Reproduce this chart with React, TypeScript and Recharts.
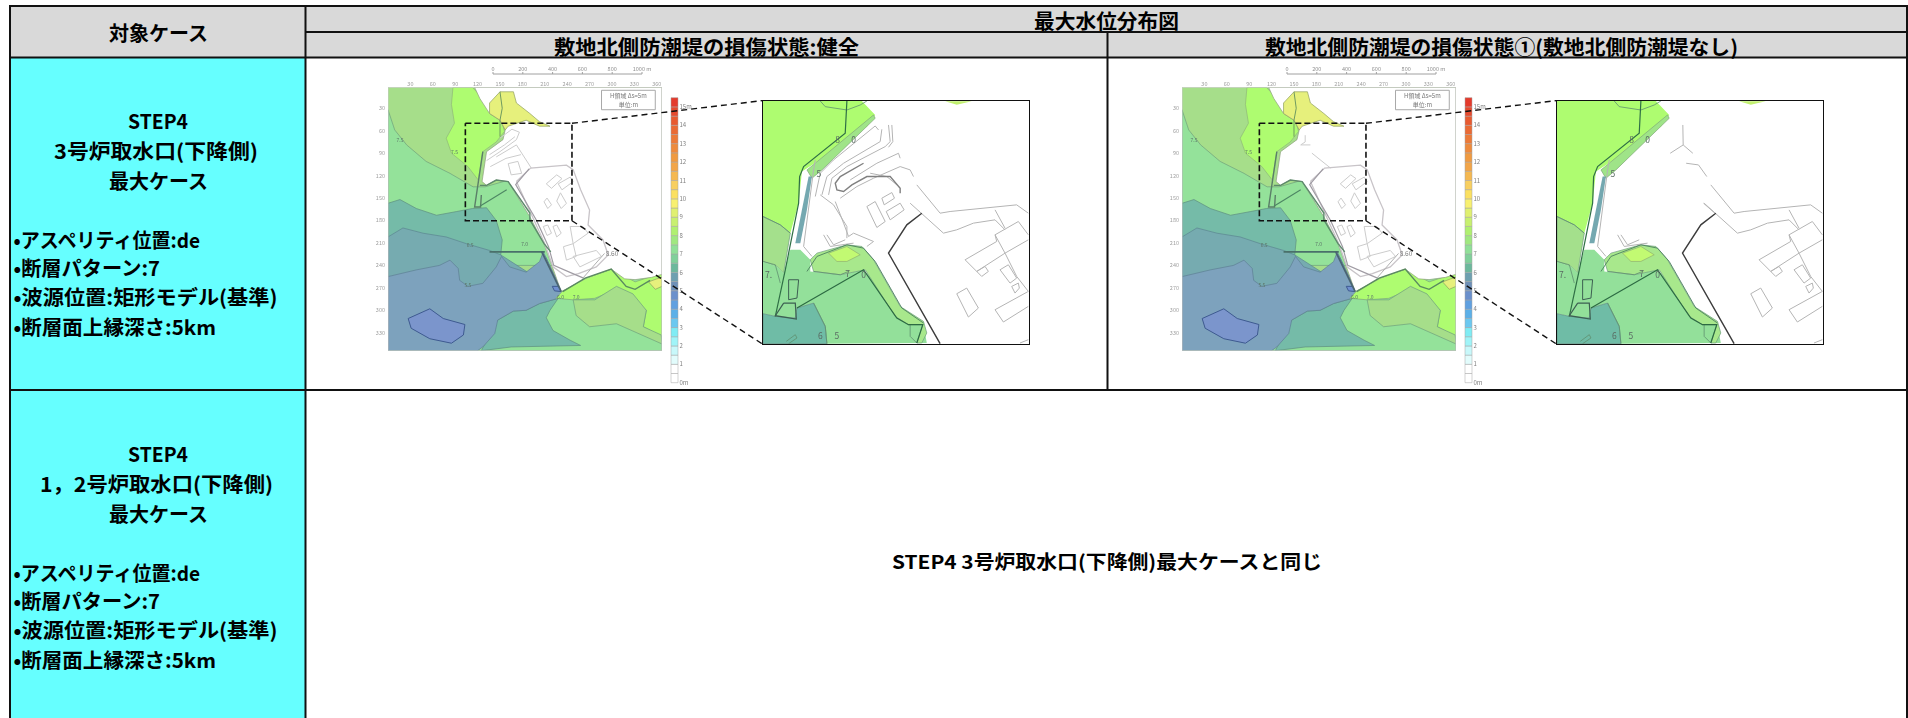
import { Bar, BarChart, LabelList, Scatter, ScatterChart, XAxis, YAxis } from 'recharts';

type Pair = [number, number];

const FONT = "'Noto Sans CJK JP', 'Noto Sans', sans-serif";

// table text
const caseHeader = '対象ケース';
const mapHeader = '最大水位分布図';
const sideHeaders = ['敷地北側防潮堤の損傷状態:健全', '敷地北側防潮堤の損傷状態①(敷地北側防潮堤なし)'];
const caseLines = ['•アスペリティ位置:de', '•断層パターン:7', '•波源位置:矩形モデル(基準)', '•断層面上縁深さ:5km'];
const sameAsNote = 'STEP4 3号炉取水口(下降側)最大ケースと同じ';

// map axes (grid numbers along the edges of the figure)
const gridTicksX = [30, 60, 90, 120, 150, 180, 210, 240, 270, 300, 330, 360];
const gridTicksY = [30, 60, 90, 120, 150, 180, 210, 240, 270, 300, 330];
const scaleTicks = [0, 200, 400, 600, 800, 1000];

// water level legend, one colour per 0.5 m from 0 m upward
const levelTicks = [0, 1, 2, 3, 4, 5, 6, 7, 8, 9, 10, 11, 12, 13, 14, 15];
const levelColors = [
  '#ffffff', '#ffffff', '#e2fcfc', '#c8f8fa', '#a0f4f8', '#80ecf4', '#6cc8f0', '#5cb0e8',
  '#60a0e0', '#6b90cc', '#6e90b8', '#6ea0b0', '#6cb89c', '#80d09a', '#90e098', '#a0e880',
  '#b0f070', '#c8f070', '#e0f070', '#f8f070', '#fbe060', '#f8cf60', '#f5b850', '#f2a548',
  '#f09a40', '#ee8a3c', '#ec7a38', '#ea6a34', '#e85a30', '#e64a2e', '#e43a2c',
];

// contour bands of the overview map, in grid numbers
const wholeArea: Pair[] = [[0, 2], [367, 2], [367, 354], [0, 354]];
const band8North: Pair[] = [[87, 2], [113, 2], [127, 17], [136, 28], [150, 37], [156, 61], [145, 75], [127, 88], [121, 126], [107, 108], [85, 90], [78, 70], [89, 50], [85, 25]];
const band7: Pair[] = [[0, 32], [9, 59], [25, 79], [51, 101], [83, 117], [114, 135], [130, 135], [165, 125], [240, 240], [0, 240]];
const band65: Pair[] = [[0, 157], [16, 152], [38, 164], [65, 173], [92, 168], [113, 164], [132, 163], [145, 180], [153, 206], [151, 226], [165, 245], [187, 249], [212, 230], [240, 300], [0, 300]];
const band6: Pair[] = [[0, 202], [20, 190], [47, 197], [78, 202], [105, 211], [136, 220], [151, 226], [187, 249], [212, 235], [240, 300], [0, 300]];
const band7South: Pair[] = [[143, 300], [228, 270], [366, 245], [367, 354], [120, 354]];
const band65South: Pair[] = [[147, 313], [168, 301], [185, 300], [203, 291], [228, 284], [217, 300], [212, 310], [221, 327], [244, 340], [258, 347], [165, 349], [125, 354]];
const band55: Pair[] = [[0, 255], [38, 246], [69, 240], [83, 233], [94, 244], [96, 260], [107, 268], [127, 264], [145, 242], [152, 228], [163, 242], [185, 249], [203, 235], [208, 222], [234, 276], [228, 284], [203, 291], [185, 300], [168, 301], [147, 313], [143, 331], [127, 349], [120, 354], [0, 354]];
const band45: Pair[] = [[27, 311], [56, 298], [74, 311], [103, 319], [101, 333], [85, 344], [56, 338], [31, 324]];
const band45Small: Pair[] = [[220, 268], [230, 268], [232, 275], [223, 274]];
const band8South: Pair[] = [[225, 284], [234, 274], [264, 257], [299, 245], [331, 262], [367, 250], [367, 335], [342, 322], [346, 300], [328, 285], [306, 272], [277, 284], [248, 286]];
const band75South: Pair[] = [[248, 286], [277, 286], [306, 268], [328, 278], [346, 300], [342, 322], [366, 333], [367, 345], [306, 318], [270, 322], [252, 307]];
const landArea: Pair[] = [[116, 2], [367, 2], [367, 252], [353, 256], [331, 259], [317, 258], [299, 245], [266, 257], [234, 274], [232, 275], [217, 233], [209, 211], [190, 175], [161, 128], [145, 126], [132, 133], [126, 128], [132, 88], [154, 72], [157, 59], [150, 46], [136, 37], [123, 17]];
const hillNorth: Pair[] = [[136, 37], [136, 23], [150, 8], [168, 8], [172, 23], [190, 37], [203, 48], [217, 54], [203, 54], [185, 46], [161, 54], [157, 59], [150, 46]];
const hillEast: Pair[] = [[349, 262], [360, 258], [367, 256], [367, 268], [358, 272]];

// coast structures of the overview map
const wallWest: Pair[] = [[127, 88], [116, 162], [124, 162], [125, 146]];
const wallHarbour: Pair[] = [[159, 139], [123, 161]];
const wallEast: Pair[] = [[123, 133], [132, 133], [145, 126], [161, 128], [190, 170], [190, 179], [209, 211], [218, 222]];
const wallBreak: Pair[] = [[136, 222], [210, 222]];
const wallSouth: Pair[] = [[206, 222], [232, 275]];
const wallSouthEast: Pair[] = [[234, 275], [264, 257], [299, 245], [319, 268], [331, 272], [351, 260]];
const hillTrack: Pair[] = [[150, 8], [153, 30], [150, 46], [150, 68]];

const roadLoop: Pair[] = [[172, 128], [191, 110], [239, 106], [248, 112], [258, 139], [270, 166], [268, 186], [288, 206], [295, 226], [279, 242], [255, 251], [239, 255], [221, 242], [210, 211], [172, 128]];
const roadDark: Pair[] = [[189, 111], [171, 132], [199, 180], [215, 215], [222, 240], [250, 252], [262, 257]];
const leader: Pair[] = [[290, 224], [261, 257]];
const siteBlocks: Pair[][] = [
  [[212, 131], [226, 119], [233, 124], [219, 137], [212, 131]],
  [[228, 131], [244, 122], [248, 128], [233, 139], [228, 131]],
  [[231, 143], [239, 157], [232, 164], [226, 154], [231, 143]],
  [[209, 155], [213, 150], [219, 159], [214, 164], [209, 155]],
  [[221, 188], [226, 186], [232, 197], [226, 202], [221, 188]],
  [[208, 188], [214, 186], [219, 197], [213, 200], [208, 188]],
  [[244, 188], [261, 188], [268, 197], [248, 211], [244, 188]],
  [[235, 215], [248, 211], [252, 228], [239, 233], [235, 215]],
  [[248, 228], [279, 220], [286, 228], [257, 242], [248, 228]],
];
const harbourRoads: Pair[][] = [
  [[136, 92], [156, 79], [170, 68]],
  [[145, 95], [172, 79], [192, 110]],
  [[132, 100], [150, 88], [172, 72], [176, 62], [166, 58], [150, 70]],
  [[161, 104], [174, 101], [179, 117], [165, 119], [161, 104]],
  [[137, 108], [158, 97], [178, 92]],
];
const yardRemains: Pair[][] = [
  [[165, 66], [165, 75], [159, 79], [172, 79]],
  [[174, 90], [199, 110]],
];

const contourMarks = [
  { x: 16, y: 73, label: '7.5' }, { x: 89, y: 89, label: '7.5' }, { x: 110, y: 213, label: '6.5' },
  { x: 183, y: 212, label: '7.0' }, { x: 107, y: 266, label: '5.5' }, { x: 231, y: 283, label: '6.0' },
  { x: 252, y: 283, label: '7.0' },
];
const legendBox: Pair[] = [[286, 6], [358, 6], [358, 32], [286, 32]];
const legendLines = [{ x: 322, y: 13, label: 'H領域\u00a0Δs=5m' }, { x: 322, y: 25, label: '単位:m' }];
const peakMark = [{ x: 300, y: 224, label: '8.60' }];

// the dashed frame and the lines that lead to the enlarged figure
const detailFrame: Pair[] = [[103.7, 50.6], [246.6, 50.6], [246.6, 181], [103.7, 181], [103.7, 50.6]];
const leadUpper: Pair[] = [[246.6, 50.6], [502, 20.2]];
const leadLower: Pair[] = [[246.6, 181], [502, 346]];

// enlarged figure, in its own detail grid
const dBright: Pair[] = [[188, 93], [485, 93], [525, 135], [500, 170], [430, 215], [375, 260], [305, 305], [295, 400], [270, 490], [240, 465], [188, 440]];
const dPale: Pair[] = [[188, 440], [240, 465], [270, 490], [250, 610], [230, 590], [188, 575]];
const dGreen: Pair[] = [[188, 575], [230, 590], [250, 610], [270, 540], [300, 540], [330, 570], [330, 605], [420, 615], [490, 600], [600, 720], [670, 765], [680, 820], [380, 822], [375, 770], [340, 700], [290, 715], [285, 745], [225, 740], [188, 732]];
const dTeal: Pair[] = [[188, 732], [225, 740], [285, 745], [290, 715], [340, 700], [375, 770], [380, 822], [188, 822]];
const dStrip: Pair[] = [[330, 570], [350, 550], [440, 525], [485, 530], [520, 570], [600, 710], [670, 755], [680, 790], [665, 820], [650, 820], [668, 765], [625, 765], [585, 740], [495, 600], [420, 615], [340, 605]];
const dSpot: Pair[] = [[385, 550], [440, 530], [480, 555], [440, 575], [410, 575]];
const dWater: Pair[] = [[325, 320], [335, 320], [320, 420], [300, 520], [285, 520], [305, 420]];
const dCoast: Pair[] = [[320, 300], [345, 280], [520, 135], [525, 145], [365, 300], [335, 325]];
const dShore: Pair[] = [[735, 94], [815, 94], [770, 104]];
const dWallNorth: Pair[] = [[440, 93], [435, 190], [310, 290], [298, 320], [295, 400], [255, 600], [225, 740]];
const dWallHarbour: Pair[] = [[290, 715], [490, 600], [590, 745], [625, 765], [668, 765], [650, 820]];
const dWallCurve: Pair[] = [[320, 605], [350, 560], [440, 525], [490, 535], [525, 575], [605, 715], [670, 760]];
const dBasinA: Pair[] = [[265, 630], [295, 630], [290, 685], [265, 690], [265, 630]];
const dBasinB: Pair[] = [[250, 700], [285, 700], [288, 748], [225, 738], [250, 700]];
const dContours: Pair[][] = [
  [[360, 93], [375, 110], [440, 120], [480, 105], [500, 93]],
  [[188, 440], [240, 465], [270, 490]],
  [[188, 575], [225, 585], [240, 640]],
  [[340, 605], [420, 615], [445, 605]],
  [[340, 700], [375, 770], [380, 822]],
  [[258, 815], [285, 795], [290, 805], [265, 822]],
  [[630, 765], [630, 800], [650, 820]],
];
const dBlack: Pair[] = [[665, 430], [620, 465], [565, 550], [720, 822]];
const dSiteLines: Pair[][] = [
  [[650, 345], [720, 430], [750, 425], [950, 405], [985, 430]],
  [[630, 400], [730, 490], [770, 480], [820, 460], [885, 450], [915, 480]],
  [[885, 420], [915, 475]],
  [[795, 570], [890, 515], [885, 495], [955, 455], [985, 495]],
  [[795, 570], [830, 605], [915, 550], [985, 510]],
  [[830, 605], [855, 590], [865, 605], [845, 620], [830, 605]],
  [[900, 600], [925, 585], [950, 625], [930, 640], [900, 600]],
  [[935, 650], [955, 640], [958, 655], [945, 670], [935, 650]],
  [[770, 672], [800, 655], [835, 715], [805, 742], [770, 672]],
  [[885, 720], [985, 665]],
  [[885, 720], [910, 757], [985, 710]],
  [[885, 495], [915, 550], [950, 620], [985, 665]],
  [[960, 820], [985, 810]],
  [[345, 270], [340, 300], [310, 530], [335, 560]],
  [[370, 495], [390, 530], [460, 520]],
  [[380, 495], [400, 525], [435, 510]],
];
const dHarbourLines: Pair[][] = [
  [[535, 180], [525, 168], [400, 270], [360, 310], [345, 380]],
  [[545, 178], [540, 215], [430, 280], [380, 320], [365, 375]],
  [[565, 165], [570, 215], [555, 230], [440, 290], [395, 325], [385, 375]],
  [[575, 165], [578, 215], [565, 232]],
  [[420, 385], [470, 350], [520, 325], [600, 290], [630, 300], [640, 320]],
  [[450, 330], [530, 280], [595, 250], [600, 265]],
  [[510, 310], [560, 320], [590, 345]],
  [[500, 410], [525, 395], [555, 455], [530, 473], [500, 410]],
  [[545, 385], [575, 368], [583, 385], [552, 405], [545, 385]],
  [[558, 425], [600, 400], [612, 420], [570, 450], [558, 425]],
  [[360, 375], [400, 405], [440, 470], [440, 505]],
  [[405, 395], [430, 460], [445, 500], [460, 490], [520, 515], [500, 530]],
];
const dHarbourDark: Pair[] = [[490, 280], [420, 320], [405, 340], [410, 360], [430, 365], [455, 345], [500, 320], [570, 320], [600, 355], [600, 370]];
const dRemains: Pair[][] = [
  [[566, 165], [567, 225], [528, 250]],
  [[567, 225], [596, 250]],
  [[576, 280], [613, 285], [638, 320]],
  [[628, 400], [660, 428]],
];
const dMarks = [
  { x: 412, y: 210, label: '8' }, { x: 460, y: 210, label: '0' }, { x: 356, y: 312, label: '5' },
  { x: 205, y: 617, label: '7.' }, { x: 442, y: 612, label: '7' }, { x: 490, y: 615, label: '0' },
  { x: 360, y: 798, label: '6' }, { x: 410, y: 798, label: '5' },
];

const points = (pairs: Pair[]) => pairs.map(([x, y]) => ({ x, y }));
const closed = (pairs: Pair[]) => points([...pairs, pairs[0]]);
const NoDot = () => null;

function fillArea(key: string, pairs: Pair[], fill: string, stroke: string, strokeWidth = 0.7) {
  return (
    <Scatter
      key={key}
      data={closed(pairs)}
      shape={NoDot}
      line={{ fill, stroke, strokeWidth }}
      isAnimationActive={false}
    />
  );
}

function trace(key: string, pairs: Pair[], stroke: string, strokeWidth = 1, strokeDasharray?: string) {
  return (
    <Scatter
      key={key}
      data={points(pairs)}
      shape={NoDot}
      line={{ stroke, strokeWidth, strokeDasharray, fill: 'none' }}
      isAnimationActive={false}
    />
  );
}

function marks(key: string, data: { x: number; y: number; label: string }[], size: number, color: string) {
  return (
    <Scatter key={key} data={data} shape={NoDot} isAnimationActive={false}>
      <LabelList dataKey="label" position="center" fontSize={size} fill={color} fontFamily={FONT} />
    </Scatter>
  );
}

function Overview({ left, full }: { left: number; full: boolean }) {
  const gridTick = { fontSize: 5.5, fill: '#a0a0a0', fontFamily: FONT };
  return (
    <div style={{ position: 'absolute', left, top: 60, filter: 'blur(0.5px)' }}>
      <ScatterChart width={340} height={330} margin={{ top: 13.3, right: 18, bottom: 39.3, left: 18 }}>
        <XAxis
          type="number"
          dataKey="x"
          orientation="top"
          domain={[0, 367]}
          ticks={gridTicksX}
          height={14}
          allowDataOverflow
          axisLine={false}
          tickLine={false}
          tickSize={0}
          tick={gridTick}
          tickMargin={1}
        />
        <YAxis
          type="number"
          dataKey="y"
          reversed
          domain={[2, 354]}
          ticks={gridTicksY}
          width={30}
          allowDataOverflow
          axisLine={false}
          tickLine={false}
          tickSize={0}
          tick={gridTick}
          tickMargin={3}
        />
        {fillArea('base', wholeArea, '#a6de8a', '#a6de8a')}
        {fillArea('b8n', band8North, '#aefc70', '#8fb878')}
        {fillArea('b7', band7, '#94e29a', '#6f9f7c')}
        {fillArea('b65', band65, '#75bba8', '#5f8f80')}
        {fillArea('b6', band6, '#76abb0', '#5c8590')}
        {fillArea('b7s', band7South, '#94e29a', '#6f9f7c')}
        {fillArea('b65s', band65South, '#75bba8', '#5f8f80')}
        {fillArea('b55', band55, '#7da2bd', '#5f7f95')}
        {fillArea('b45', band45, '#7b95cc', '#3e5a90', 1)}
        {fillArea('b45s', band45Small, '#6f8fcf', '#3e5a90', 1)}
        {fillArea('b8s', band8South, '#aefc70', '#7fa878')}
        {fillArea('b75s', band75South, '#a6de8a', '#6f9f7c')}
        {fillArea('land', landArea, '#ffffff', '#8fa080')}
        {fillArea('hillN', hillNorth, '#e6f07c', '#8f9f60')}
        {fillArea('hillE', hillEast, '#e6f07c', '#8f9f60')}
        {trace('hillTrack', hillTrack, '#6f9a60', 1)}
        {(full ? [...siteBlocks, ...harbourRoads] : [...siteBlocks, ...yardRemains]).map((b, i) =>
          trace(`site${i}`, b, '#cccccc', 1),
        )}
        {trace('roadLoop', roadLoop, '#c8c4c8', 1.3)}
        {trace('roadDark', roadDark, '#a09ca4', 1.2)}
        {trace('leader', leader, '#b0b0b0', 1)}
        {trace('wallWest', wallWest, '#5b7f68', 1.4)}
        {trace('wallHarbour', wallHarbour, '#4d8663', 1.1)}
        {trace('wallEast', wallEast, '#5d8a6c', 1.4)}
        {trace('wallBreak', wallBreak, '#4a706a', 1.8)}
        {trace('wallSouth', wallSouth, '#4a6472', 1.8)}
        {trace('wallSouthEast', wallSouthEast, '#5a8a60', 1.4)}
        {trace('frame', [...wholeArea, wholeArea[0]], '#c8c8c8', 1)}
        {fillArea('legendBox', legendBox, '#ffffff', '#a8a8a8', 1)}
        {marks('legend', legendLines, 6, '#777777')}
        {marks('contour', contourMarks, 5, '#5c7668')}
        {marks('peak', peakMark, 6.5, '#808080')}
      </ScatterChart>
    </div>
  );
}

function ScaleBar({ left }: { left: number }) {
  return (
    <div style={{ position: 'absolute', left, top: 60, filter: 'blur(0.4px)' }}>
      <ScatterChart width={190} height={20} margin={{ top: 0, right: 21, bottom: 0, left: 20 }}>
        <XAxis
          type="number"
          dataKey="x"
          orientation="top"
          domain={[0, 1000]}
          ticks={scaleTicks}
          height={14}
          stroke="#a0a0a0"
          tickSize={2}
          tickMargin={1}
          tick={{ fontSize: 5.5, fill: '#909090', fontFamily: FONT }}
          tickFormatter={(v: number) => (v === 1000 ? '1000 m' : `${v}`)}
        />
        <YAxis type="number" dataKey="y" domain={[0, 1]} hide />
        <Scatter data={points([[0, 0], [1000, 0]])} shape={NoDot} isAnimationActive={false} />
      </ScatterChart>
    </div>
  );
}

function LevelBar({ left }: { left: number }) {
  const row: Record<string, number | string> = { name: 'level' };
  levelColors.forEach((_, i) => {
    row[`s${i}`] = 0.5;
  });
  return (
    <div style={{ position: 'absolute', left, top: 90, filter: 'blur(0.4px)' }}>
      <BarChart width={60} height={300} data={[row]} barCategoryGap={0} margin={{ top: 7.7, right: 5.5, bottom: 7.3, left: 6 }}>
        <XAxis dataKey="name" hide />
        <YAxis
          orientation="right"
          type="number"
          domain={[0, 15.5]}
          ticks={levelTicks}
          width={42}
          interval={0}
          axisLine={false}
          tickLine={false}
          tickSize={0}
          tickMargin={2}
          tick={{ fontSize: 6, fill: '#808080', fontFamily: FONT, textAnchor: 'start' }}
          tickFormatter={(v: number) => (v === 15 ? '15m' : v === 0 ? '0m' : `${v}`)}
        />
        {levelColors.map((color, i) => (
          <Bar key={i} dataKey={`s${i}`} stackId="level" fill={color} stroke="#a4a4a4" strokeWidth={0.5} isAnimationActive={false} />
        ))}
      </BarChart>
    </div>
  );
}

function Detail({ left, full }: { left: number; full: boolean }) {
  const lines = full ? [...dSiteLines, ...dHarbourLines] : [...dSiteLines, ...dRemains];
  return (
    <div style={{ position: 'absolute', left, top: 101, background: '#ffffff', outline: '1.5px solid #111111', outlineOffset: '-0.5px' }}>
      <div style={{ filter: 'blur(0.3px)' }}>
        <ScatterChart width={266} height={243} margin={{ top: 0, right: 0, bottom: 0, left: 0 }}>
          <XAxis type="number" dataKey="x" domain={[188, 987]} allowDataOverflow hide />
          <YAxis type="number" dataKey="y" reversed domain={[93, 823]} allowDataOverflow hide />
          {fillArea('bright', dBright, '#aefc70', '#aefc70', 0)}
          {fillArea('pale', dPale, '#a4e08c', '#6f9f7c')}
          {fillArea('green', dGreen, '#93e09a', '#93e09a', 0)}
          {fillArea('teal', dTeal, '#6fbca6', '#5f8f80')}
          {fillArea('strip', dStrip, '#a8e88c', '#6f9f7c')}
          {fillArea('spot', dSpot, '#c2fa72', '#8fb070')}
          {fillArea('coast', dCoast, '#9fe488', '#7fa878')}
          {fillArea('water', dWater, '#74a8b0', '#74a8b0', 0)}
          {fillArea('shore', dShore, '#c2f070', '#c2f070', 0)}
          {dContours.map((c, i) => trace(`contour${i}`, c, '#5f8f70', 0.8))}
          {lines.map((l, i) => trace(`line${i}`, l, '#b4b4b4', 1))}
          {full ? trace('harbourDark', dHarbourDark, '#808080', 1.4) : null}
          {trace('black', dBlack, '#3c3c3c', 1.4)}
          {trace('wallN', dWallNorth, '#2f6f45', 1.2)}
          {trace('wallH', dWallHarbour, '#2c6a42', 1.2)}
          {trace('wallC', dWallCurve, '#4d8060', 0.9)}
          {trace('basinA', dBasinA, '#3d5f52', 1)}
          {trace('basinB', dBasinB, '#3d5f52', 1.2)}
          {marks('marks', dMarks, 8.5, '#5a6a62')}
        </ScatterChart>
      </div>
    </div>
  );
}

// runs over the legend bar, so it sits on top of everything else in the cell
function Leads({ left }: { left: number }) {
  return (
    <div style={{ position: 'absolute', left, top: 87.4 }}>
      <ScatterChart width={374.5} height={257} margin={{ top: 0, right: 0, bottom: 0, left: 0 }}>
        <XAxis type="number" dataKey="x" domain={[0, 502]} hide />
        <YAxis type="number" dataKey="y" reversed domain={[2, 346]} hide />
        {trace('detailFrame', detailFrame, '#111111', 1.6, '6 3')}
        {trace('leadUpper', leadUpper, '#111111', 1.4, '6 4')}
        {trace('leadLower', leadLower, '#111111', 1.4, '6 4')}
      </ScatterChart>
    </div>
  );
}

function Txt({ text, x1, x2, y, size = 20 }: { text: string; x1: number; x2: number; y: number; size?: number }) {
  return (
    <text
      x={x1}
      y={y}
      textLength={x2 - x1}
      lengthAdjust="spacingAndGlyphs"
      dominantBaseline="central"
      fontFamily={FONT}
      fontWeight={700}
      fontSize={size}
      fill="#000000"
    >
      {text}
    </text>
  );
}

function CaseCell({ top, title, x1, x2 }: { top: number; title: string; x1: number; x2: number }) {
  const ends = [200, 160, 277.5, 216];
  const rows = [0, 28.5, 57.5, 87];
  return (
    <>
      <Txt text="STEP4" x1={128} x2={188} y={top} />
      <Txt text={title} x1={x1} x2={x2} y={top + 30} />
      <Txt text="最大ケース" x1={109} x2={208} y={top + 60} />
      {caseLines.map((line, i) => (
        <Txt key={line} text={line} x1={13.5} x2={ends[i]} y={top + 119 + rows[i]} />
      ))}
    </>
  );
}

function Table() {
  const line = { stroke: '#111111', strokeWidth: 2 };
  return (
    <svg width={1908} height={718} style={{ position: 'absolute', left: 0, top: 0 }}>
      <rect x={0} y={0} width={1908} height={718} fill="#ffffff" />
      <rect x={10} y={6} width={1897} height={52} fill="#d9d9d9" />
      <rect x={10} y={58} width={295} height={660} fill="#66ffff" />
      <line x1={9} y1={6} x2={1908} y2={6} {...line} />
      <line x1={305} y1={32} x2={1908} y2={32} {...line} />
      <line x1={9} y1={57.5} x2={1908} y2={57.5} {...line} />
      <line x1={9} y1={390} x2={1908} y2={390} {...line} />
      <line x1={10} y1={6} x2={10} y2={718} {...line} />
      <line x1={305.5} y1={6} x2={305.5} y2={718} {...line} />
      <line x1={1107.5} y1={32} x2={1107.5} y2={390} {...line} />
      <line x1={1907} y1={6} x2={1907} y2={718} {...line} />
      <Txt text={caseHeader} x1={109} x2={208} y={32} />
      <Txt text={mapHeader} x1={1034} x2={1179} y={20.5} />
      <Txt text={sideHeaders[0]} x1={554} x2={859} y={46} />
      <Txt text={sideHeaders[1]} x1={1265} x2={1738} y={46} />
      <CaseCell top={120} title="3号炉取水口(下降側)" x1={54} x2={258} />
      <CaseCell top={453} title="1，2号炉取水口(下降側)" x1={40} x2={273} />
      <Txt text={sameAsNote} x1={892} x2={1322} y={560} size={19} />
    </svg>
  );
}

export default function App() {
  return (
    <div style={{ position: 'absolute', left: 0, top: 0, width: 1908, height: 718, overflow: 'hidden', background: '#ffffff' }}>
      <Table />
      <Overview left={340} full />
      <Overview left={1134} full={false} />
      <ScaleBar left={473} />
      <ScaleBar left={1267} />
      <LevelBar left={665} />
      <LevelBar left={1459} />
      <Detail left={763} full />
      <Detail left={1557} full={false} />
      <Leads left={388.3} />
      <Leads left={1182.3} />
    </div>
  );
}
